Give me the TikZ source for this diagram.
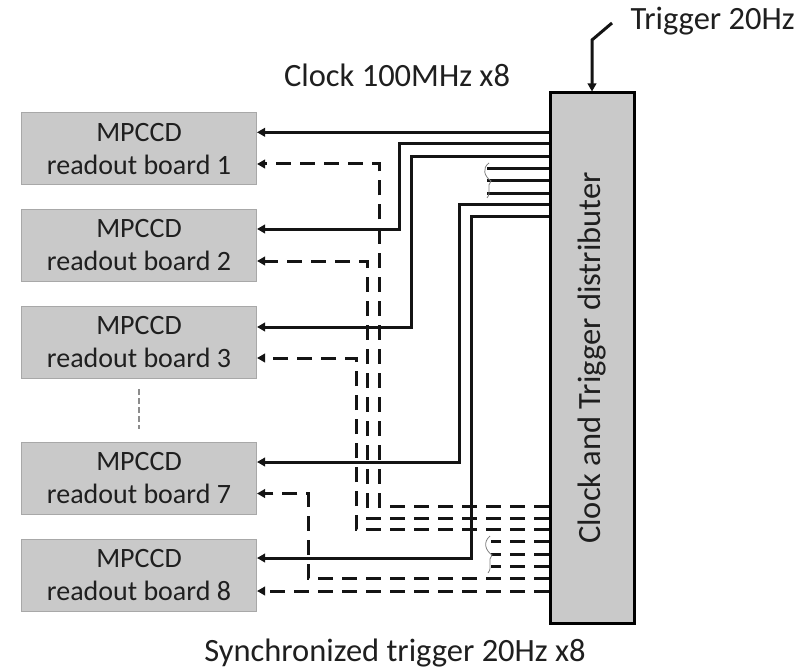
\documentclass[tikz,border=0pt]{standalone}
\usepackage{fontspec}
\setmainfont{Carlito}
\usetikzlibrary{arrows.meta,calc}
\definecolor{boxgrey}{HTML}{C9C9C9}
\definecolor{edgegrey}{HTML}{A8A8A8}
\begin{document}
\begin{tikzpicture}[x=1pt,y=-1pt,
  every node/.style={font=\fontsize{28}{33}\selectfont, text=black!88},
  biglabel/.style={font=\fontsize{32.5}{38}\selectfont},
  board/.style={draw=edgegrey, line width=1pt, fill=boxgrey, minimum width=235pt, minimum height=72pt, inner sep=0pt, align=center},
  distbox/.style={draw=black, line width=3pt, fill=boxgrey, minimum width=84pt, minimum height=530pt, inner sep=0pt},
  sig/.style={line width=3pt, draw=black!92},
  sigd/.style={sig, dash pattern=on 15pt off 9pt},
  tip/.style={-{Triangle[length=8pt,width=8.5pt]}},
  brk/.style={draw=gray, line width=0.8pt},
]
\useasboundingbox (0,0) rectangle (810,668);

% boards
\node[board] (b1) at (139,149) {MPCCD\\readout board 1};
\node[board] (b2) at (139,245.5) {MPCCD\\readout board 2};
\node[board] (b3) at (139,342) {MPCCD\\readout board 3};
\node[board] (b7) at (139,478) {MPCCD\\readout board 7};
\node[board] (b8) at (139,575) {MPCCD\\readout board 8};
\draw[draw=gray!90, line width=1.4pt, dash pattern=on 6pt off 3pt] (b3.south |- 0,389) -- (b7.north |- 0,429);

% distributor
\node[distbox] (dist) at (592,358) {};
\node[rotate=90, biglabel] (dlabel) at (dist.center) {Clock and Trigger distributer};

% trigger input
\coordinate (trig) at (612,23);
\draw[sig,tip] (trig) -- (592,40) -- (dist.north);
\node[anchor=base west, biglabel] (tlabel) at (627,30) {Trigger 20Hz};

% labels
\node[anchor=base, biglabel] (clabel) at (397,87) {Clock 100MHz x8};
\node[anchor=base, biglabel] (slabel) at (395,661) {Synchronized trigger 20Hz x8};

% clock lines (solid)
\draw[sig,tip] (dist.west |- 0,132.3) -- (b1.east |- 0,132.3);
\draw[sig,tip] (dist.west |- 0,143.5) -| (399,229) -- (b2.east |- 0,229);
\draw[sig,tip] (dist.west |- 0,156.5) -| (411,327) -- (b3.east |- 0,327);
\draw[sig] (dist.west |- 0,168.5) -- (487,168.5);
\draw[sig] (dist.west |- 0,181) -- (487,181);
\draw[sig] (dist.west |- 0,193.3) -- (487,193.3);
\draw[sig,tip] (dist.west |- 0,204.5) -| (459,462) -- (b7.east |- 0,462);
\draw[sig,tip] (dist.west |- 0,216.7) -| (471,558) -- (b8.east |- 0,558);

% trigger lines (dashed)
\draw[sigd,tip] (dist.west |- 0,506) -| (379,164) -- (b1.east |- 0,164);
\draw[sigd,tip] (dist.west |- 0,518) -| (367,261) -- (b2.east |- 0,261);
\draw[sigd,tip] (dist.west |- 0,529.5) -| (356,358) -- (b3.east |- 0,358);
\draw[sigd] (dist.west |- 0,541.7) -- (491,541.7);
\draw[sigd] (dist.west |- 0,554.3) -- (491,554.3);
\draw[sigd] (dist.west |- 0,566.7) -- (491,566.7);
\draw[sigd,tip] (dist.west |- 0,578.3) -| (308,493.5) -- (b7.east |- 0,493.5);
\draw[sigd,tip] (dist.west |- 0,591) -- (b8.east |- 0,591);

% break marks
\draw[brk] (489,163) .. controls (482,168) and (484,176) .. (491,181) .. controls (486,186) and (492,192) .. (487,198);
\draw[brk] (490,536) .. controls (483,542) and (485,550) .. (492,555) .. controls (487,560) and (493,567) .. (488,573);
\end{tikzpicture}
\end{document}
